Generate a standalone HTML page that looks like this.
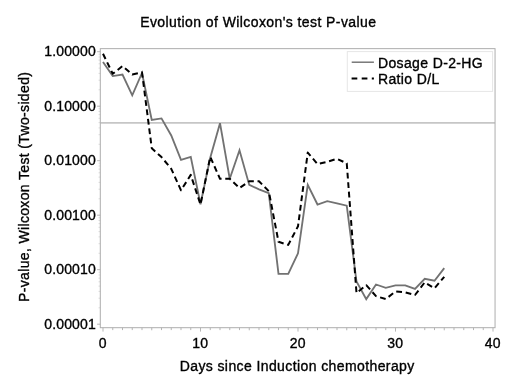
<!DOCTYPE html>
<html><head><meta charset="utf-8"><title>Evolution of Wilcoxon's test P-value</title>
<style>
html,body{margin:0;padding:0;background:#fff;}
svg{display:block;font-family:"Liberation Sans",sans-serif;font-size:14px;fill:#000;}
text{stroke:#000;stroke-width:0.35px;}
</style></head><body>
<svg width="520" height="390" viewBox="0 0 520 390">
<rect width="520" height="390" fill="#fff"/>
<text x="140.2" y="27.3" letter-spacing="0.415">Evolution of Wilcoxon's test P-value</text>
<g stroke="#d6d6d6" stroke-width="0.8" fill="none">
<line x1="98.5" x2="100.3" y1="89.79" y2="89.79"/><line x1="98.5" x2="100.3" y1="80.20" y2="80.20"/><line x1="98.5" x2="100.3" y1="73.39" y2="73.39"/><line x1="98.5" x2="100.3" y1="68.11" y2="68.11"/><line x1="98.5" x2="100.3" y1="63.79" y2="63.79"/><line x1="98.5" x2="100.3" y1="60.14" y2="60.14"/><line x1="98.5" x2="100.3" y1="56.98" y2="56.98"/><line x1="98.5" x2="100.3" y1="54.19" y2="54.19"/><line x1="98.5" x2="100.3" y1="144.29" y2="144.29"/><line x1="98.5" x2="100.3" y1="134.70" y2="134.70"/><line x1="98.5" x2="100.3" y1="127.89" y2="127.89"/><line x1="98.5" x2="100.3" y1="122.61" y2="122.61"/><line x1="98.5" x2="100.3" y1="118.29" y2="118.29"/><line x1="98.5" x2="100.3" y1="114.64" y2="114.64"/><line x1="98.5" x2="100.3" y1="111.48" y2="111.48"/><line x1="98.5" x2="100.3" y1="108.69" y2="108.69"/><line x1="98.5" x2="100.3" y1="198.79" y2="198.79"/><line x1="98.5" x2="100.3" y1="189.20" y2="189.20"/><line x1="98.5" x2="100.3" y1="182.39" y2="182.39"/><line x1="98.5" x2="100.3" y1="177.11" y2="177.11"/><line x1="98.5" x2="100.3" y1="172.79" y2="172.79"/><line x1="98.5" x2="100.3" y1="169.14" y2="169.14"/><line x1="98.5" x2="100.3" y1="165.98" y2="165.98"/><line x1="98.5" x2="100.3" y1="163.19" y2="163.19"/><line x1="98.5" x2="100.3" y1="253.29" y2="253.29"/><line x1="98.5" x2="100.3" y1="243.70" y2="243.70"/><line x1="98.5" x2="100.3" y1="236.89" y2="236.89"/><line x1="98.5" x2="100.3" y1="231.61" y2="231.61"/><line x1="98.5" x2="100.3" y1="227.29" y2="227.29"/><line x1="98.5" x2="100.3" y1="223.64" y2="223.64"/><line x1="98.5" x2="100.3" y1="220.48" y2="220.48"/><line x1="98.5" x2="100.3" y1="217.69" y2="217.69"/><line x1="98.5" x2="100.3" y1="307.79" y2="307.79"/><line x1="98.5" x2="100.3" y1="298.20" y2="298.20"/><line x1="98.5" x2="100.3" y1="291.39" y2="291.39"/><line x1="98.5" x2="100.3" y1="286.11" y2="286.11"/><line x1="98.5" x2="100.3" y1="281.79" y2="281.79"/><line x1="98.5" x2="100.3" y1="278.14" y2="278.14"/><line x1="98.5" x2="100.3" y1="274.98" y2="274.98"/><line x1="98.5" x2="100.3" y1="272.19" y2="272.19"/>
</g>
<g stroke="#b2b2b2" stroke-width="0.95" fill="none">
<line x1="97.1" x2="100.3" y1="51.70" y2="51.70"/><line x1="97.1" x2="100.3" y1="106.20" y2="106.20"/><line x1="97.1" x2="100.3" y1="160.70" y2="160.70"/><line x1="97.1" x2="100.3" y1="215.20" y2="215.20"/><line x1="97.1" x2="100.3" y1="269.70" y2="269.70"/><line x1="97.1" x2="100.3" y1="324.20" y2="324.20"/>
<line x1="103.00" x2="103.00" y1="327.7" y2="331.59999999999997"/><line x1="112.75" x2="112.75" y1="327.7" y2="330.09999999999997"/><line x1="122.50" x2="122.50" y1="327.7" y2="330.09999999999997"/><line x1="132.25" x2="132.25" y1="327.7" y2="330.09999999999997"/><line x1="142.00" x2="142.00" y1="327.7" y2="330.09999999999997"/><line x1="151.75" x2="151.75" y1="327.7" y2="330.3"/><line x1="161.50" x2="161.50" y1="327.7" y2="330.09999999999997"/><line x1="171.25" x2="171.25" y1="327.7" y2="330.09999999999997"/><line x1="181.00" x2="181.00" y1="327.7" y2="330.09999999999997"/><line x1="190.75" x2="190.75" y1="327.7" y2="330.09999999999997"/><line x1="200.50" x2="200.50" y1="327.7" y2="331.59999999999997"/><line x1="210.25" x2="210.25" y1="327.7" y2="330.09999999999997"/><line x1="220.00" x2="220.00" y1="327.7" y2="330.09999999999997"/><line x1="229.75" x2="229.75" y1="327.7" y2="330.09999999999997"/><line x1="239.50" x2="239.50" y1="327.7" y2="330.09999999999997"/><line x1="249.25" x2="249.25" y1="327.7" y2="330.3"/><line x1="259.00" x2="259.00" y1="327.7" y2="330.09999999999997"/><line x1="268.75" x2="268.75" y1="327.7" y2="330.09999999999997"/><line x1="278.50" x2="278.50" y1="327.7" y2="330.09999999999997"/><line x1="288.25" x2="288.25" y1="327.7" y2="330.09999999999997"/><line x1="298.00" x2="298.00" y1="327.7" y2="331.59999999999997"/><line x1="307.75" x2="307.75" y1="327.7" y2="330.09999999999997"/><line x1="317.50" x2="317.50" y1="327.7" y2="330.09999999999997"/><line x1="327.25" x2="327.25" y1="327.7" y2="330.09999999999997"/><line x1="337.00" x2="337.00" y1="327.7" y2="330.09999999999997"/><line x1="346.75" x2="346.75" y1="327.7" y2="330.3"/><line x1="356.50" x2="356.50" y1="327.7" y2="330.09999999999997"/><line x1="366.25" x2="366.25" y1="327.7" y2="330.09999999999997"/><line x1="376.00" x2="376.00" y1="327.7" y2="330.09999999999997"/><line x1="385.75" x2="385.75" y1="327.7" y2="330.09999999999997"/><line x1="395.50" x2="395.50" y1="327.7" y2="331.59999999999997"/><line x1="405.25" x2="405.25" y1="327.7" y2="330.09999999999997"/><line x1="415.00" x2="415.00" y1="327.7" y2="330.09999999999997"/><line x1="424.75" x2="424.75" y1="327.7" y2="330.09999999999997"/><line x1="434.50" x2="434.50" y1="327.7" y2="330.09999999999997"/><line x1="444.25" x2="444.25" y1="327.7" y2="330.3"/><line x1="454.00" x2="454.00" y1="327.7" y2="330.09999999999997"/><line x1="463.75" x2="463.75" y1="327.7" y2="330.09999999999997"/><line x1="473.50" x2="473.50" y1="327.7" y2="330.09999999999997"/><line x1="483.25" x2="483.25" y1="327.7" y2="330.09999999999997"/><line x1="493.00" x2="493.00" y1="327.7" y2="331.59999999999997"/>
</g>
<line x1="100.3" x2="495.05" y1="122.85" y2="122.85" stroke="#c6c6c6" stroke-width="1.8"/>
<rect x="100.3" y="48.65" width="394.75" height="279.05" fill="none" stroke="#adadad" stroke-width="1"/>
<polyline points="103.00,61.9 112.75,76.1 122.50,74.5 132.25,95.3 142.00,73.0 151.75,119.9 161.50,118.4 171.25,135.5 181.00,159.9 190.75,156.9 200.50,204.3 210.25,157.8 220.00,123.2 229.75,178.8 239.50,150.3 249.25,184.9 259.00,189.3 268.75,193.1 278.50,273.8 288.25,273.8 298.00,253.3 307.75,184.9 317.50,204.5 327.25,201.1 337.00,203.3 346.75,205.7 356.50,281.5 366.25,299.1 376.00,284.5 385.75,287.9 395.50,285.3 405.25,285.3 415.00,288.9 424.75,278.8 434.50,280.7 444.25,268.1" fill="none" stroke="#727272" stroke-width="1.85" stroke-linejoin="miter"/>
<polyline points="103.00,53.8 112.75,73.8 122.50,66.1 132.25,74.5 142.00,72.3 151.75,148.2 161.50,157.1 171.25,168.8 181.00,190.3 190.75,174.9 200.50,204.5 210.25,156.8 220.00,178.8 229.75,178.8 239.50,188.0 249.25,181.3 259.00,181.3 268.75,191.1 278.50,241.8 288.25,244.9 298.00,226.3 307.75,152.6 317.50,164.1 327.25,161.8 337.00,158.8 346.75,163.3 356.50,293.0 366.25,285.2 376.00,296.1 385.75,299.1 395.50,291.5 405.25,292.3 415.00,295.0 424.75,282.3 434.50,288.3 444.25,276.8" fill="none" stroke="#000" stroke-width="2" stroke-dasharray="5.8 3.7" stroke-linejoin="round"/>
<g>
<text x="95.9" y="56.15" text-anchor="end" letter-spacing="0.15">1.00000</text><text x="95.9" y="110.65" text-anchor="end" letter-spacing="0.15">0.10000</text><text x="95.9" y="165.15" text-anchor="end" letter-spacing="0.15">0.01000</text><text x="95.9" y="219.65" text-anchor="end" letter-spacing="0.15">0.00100</text><text x="95.9" y="274.15" text-anchor="end" letter-spacing="0.15">0.00010</text><text x="95.9" y="328.65" text-anchor="end" letter-spacing="0.15">0.00001</text>
<text x="102.80" y="347.8" text-anchor="middle" letter-spacing="0.15">0</text><text x="200.30" y="347.8" text-anchor="middle" letter-spacing="0.15">10</text><text x="297.80" y="347.8" text-anchor="middle" letter-spacing="0.15">20</text><text x="395.30" y="347.8" text-anchor="middle" letter-spacing="0.15">30</text><text x="492.80" y="347.8" text-anchor="middle" letter-spacing="0.15">40</text>
</g>
<text x="179.7" y="371.4" letter-spacing="0.4">Days since Induction chemotherapy</text>
<text transform="translate(28.8,302) rotate(-90)" letter-spacing="0.35">P-value, Wilcoxon Test (Two-sided)</text>
<rect x="347.3" y="51.6" width="145.3" height="39.8" fill="#fff" stroke="#e6e6e6" stroke-width="1"/>
<line x1="351.7" x2="373.9" y1="62.2" y2="62.2" stroke="#6e6e6e" stroke-width="1.4"/>
<line x1="351.6" x2="373.9" y1="78.4" y2="78.4" stroke="#000" stroke-width="2" stroke-dasharray="5.7 4.4"/>
<text x="378.0" y="68" letter-spacing="0.36">Dosage D-2-HG</text>
<text x="378.0" y="84.2" letter-spacing="0.36">Ratio D/L</text>
</svg>
</body></html>
